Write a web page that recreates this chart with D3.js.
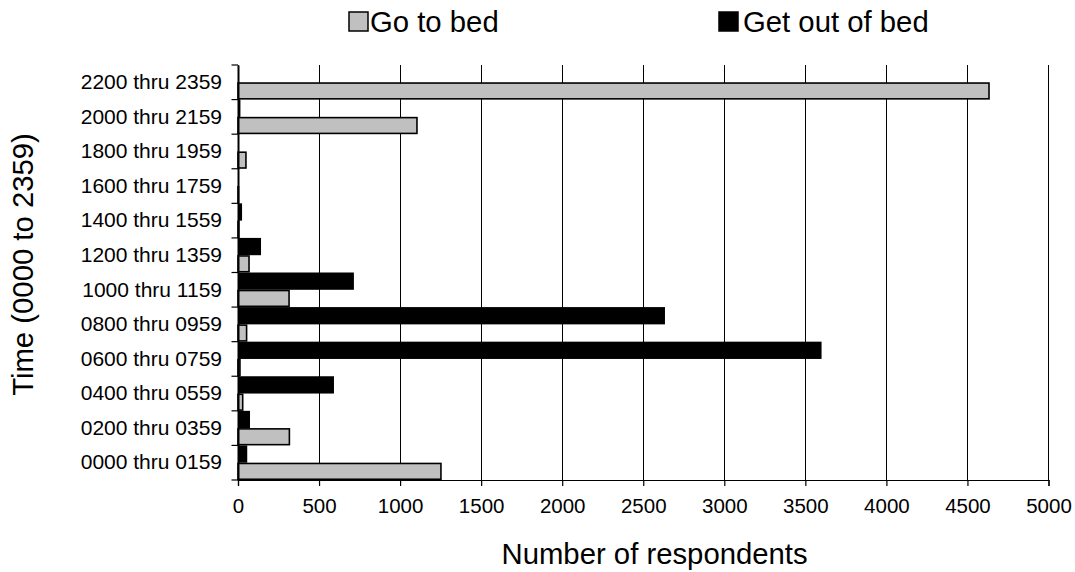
<!DOCTYPE html>
<html>
<head>
<meta charset="utf-8">
<script src="https://cdn.jsdelivr.net/npm/d3@7"></script>
<style>
  html, body { margin: 0; padding: 0; background: #fff; }
  svg { display: block; font-family: "Liberation Sans", Arial, sans-serif; }
</style>
</head>
<body>
<svg id="chart" width="1075" height="572"></svg>
<script>
// Categories listed top to bottom as they appear
const categories = ["2200 thru 2359", "2000 thru 2159", "1800 thru 1959", "1600 thru 1759",
  "1400 thru 1559", "1200 thru 1359", "1000 thru 1159", "0800 thru 0959",
  "0600 thru 0759", "0400 thru 0559", "0200 thru 0359", "0000 thru 0159"];
const goToBed    = [4633, 1104, 49, 3, 5, 68, 315, 53, 12, 29, 317, 1252];
const getOutOfBed = [5, 15, 3, 3, 25, 142, 715, 2634, 3600, 592, 74, 57];
const seriesNames = ["Go to bed", "Get out of bed"];
const xTicks = [0, 500, 1000, 1500, 2000, 2500, 3000, 3500, 4000, 4500, 5000];

(function () {
const svg = d3.select("#chart");
const pL = 238, pR = 1048.5, pT = 65, pB = 480;

const x = d3.scaleLinear().domain([0, 5000]).range([pL, pR]);
const y = d3.scaleBand().domain(categories).range([pT, pB]).paddingInner(0).paddingOuter(0);
const sub = d3.scaleBand().domain(["out", "bed"]).range([0, y.bandwidth()]).padding(0);

// gridlines
svg.append("g").selectAll("line").data(xTicks.filter(d => d > 0)).join("line")
  .attr("x1", d => x(d)).attr("x2", d => x(d))
  .attr("y1", pT).attr("y2", pB)
  .attr("stroke", "#000").attr("stroke-width", 1).attr("shape-rendering", "crispEdges");

// bars: Get out of bed (upper half, black)
svg.append("g").selectAll("rect").data(categories).join("rect")
  .attr("x", x(0))
  .attr("y", d => y(d) + sub("out"))
  .attr("width", (d, i) => x(getOutOfBed[i]) - x(0))
  .attr("height", sub.bandwidth())
  .attr("fill", "#000");

// bars: Go to bed (lower half, gray with black outline)
svg.append("g").selectAll("rect").data(categories).join("rect")
  .attr("x", x(0))
  .attr("y", d => y(d) + sub("bed") + 0.75)
  .attr("width", (d, i) => Math.max(0, x(goToBed[i]) - x(0)))
  .attr("height", sub.bandwidth() - 1.5)
  .attr("fill", "#c0c0c0")
  .attr("stroke", "#000").attr("stroke-width", 1.6);

// x axis
const xAxis = d3.axisBottom(x).tickValues(xTicks).tickSize(6).tickPadding(12).tickFormat(d3.format("d"));
const gx = svg.append("g").attr("transform", `translate(0,${pB})`).call(xAxis);
gx.select(".domain").attr("stroke", "#000").attr("stroke-width", 1.2);
gx.selectAll(".tick line").attr("stroke", "#000").attr("stroke-width", 1.2);
gx.selectAll(".tick text").attr("font-size", 20.5).attr("fill", "#000")
  .attr("font-family", "Liberation Sans, Arial, sans-serif");

// y axis
const yAxis = d3.axisLeft(y).tickSize(0).tickPadding(16);
const gy = svg.append("g").attr("transform", `translate(${pL},0)`).call(yAxis);
gy.select(".domain").attr("stroke", "#000").attr("stroke-width", 2);
gy.selectAll(".tick text").attr("font-size", 21).attr("fill", "#000")
  .attr("font-family", "Liberation Sans, Arial, sans-serif");
// category boundary ticks
const bounds = categories.map(c => y(c)).concat([pB]);
svg.append("g").selectAll("line").data(bounds).join("line")
  .attr("x1", pL - 6.5).attr("x2", pL)
  .attr("y1", d => d).attr("y2", d => d)
  .attr("stroke", "#000").attr("stroke-width", 1.2);

// axis titles
svg.append("text").attr("x", 501.5).attr("y", 564)
  .attr("text-anchor", "start").attr("font-size", 29.3).attr("fill", "#000")
  .text("Number of respondents");
svg.append("text").attr("transform", `translate(33,${(pT + pB) / 2 - 8}) rotate(-90)`)
  .attr("text-anchor", "middle").attr("font-size", 29.3).attr("fill", "#000")
  .text("Time (0000 to 2359)");

// legend
const legendItems = [
  { name: seriesNames[0], fill: "#c0c0c0", sx: 349, tx: 370 },
  { name: seriesNames[1], fill: "#000", sx: 719, tx: 743 }
];
const lg = svg.append("g");
lg.selectAll("rect").data(legendItems).join("rect")
  .attr("x", d => d.sx).attr("y", 12).attr("width", 19).attr("height", 19)
  .attr("fill", d => d.fill).attr("stroke", "#000").attr("stroke-width", 1.5);
lg.selectAll("text").data(legendItems).join("text")
  .attr("x", d => d.tx).attr("y", 32)
  .attr("font-size", 29.3).attr("fill", "#000")
  .text(d => d.name);
})();
</script>
</body>
</html>
